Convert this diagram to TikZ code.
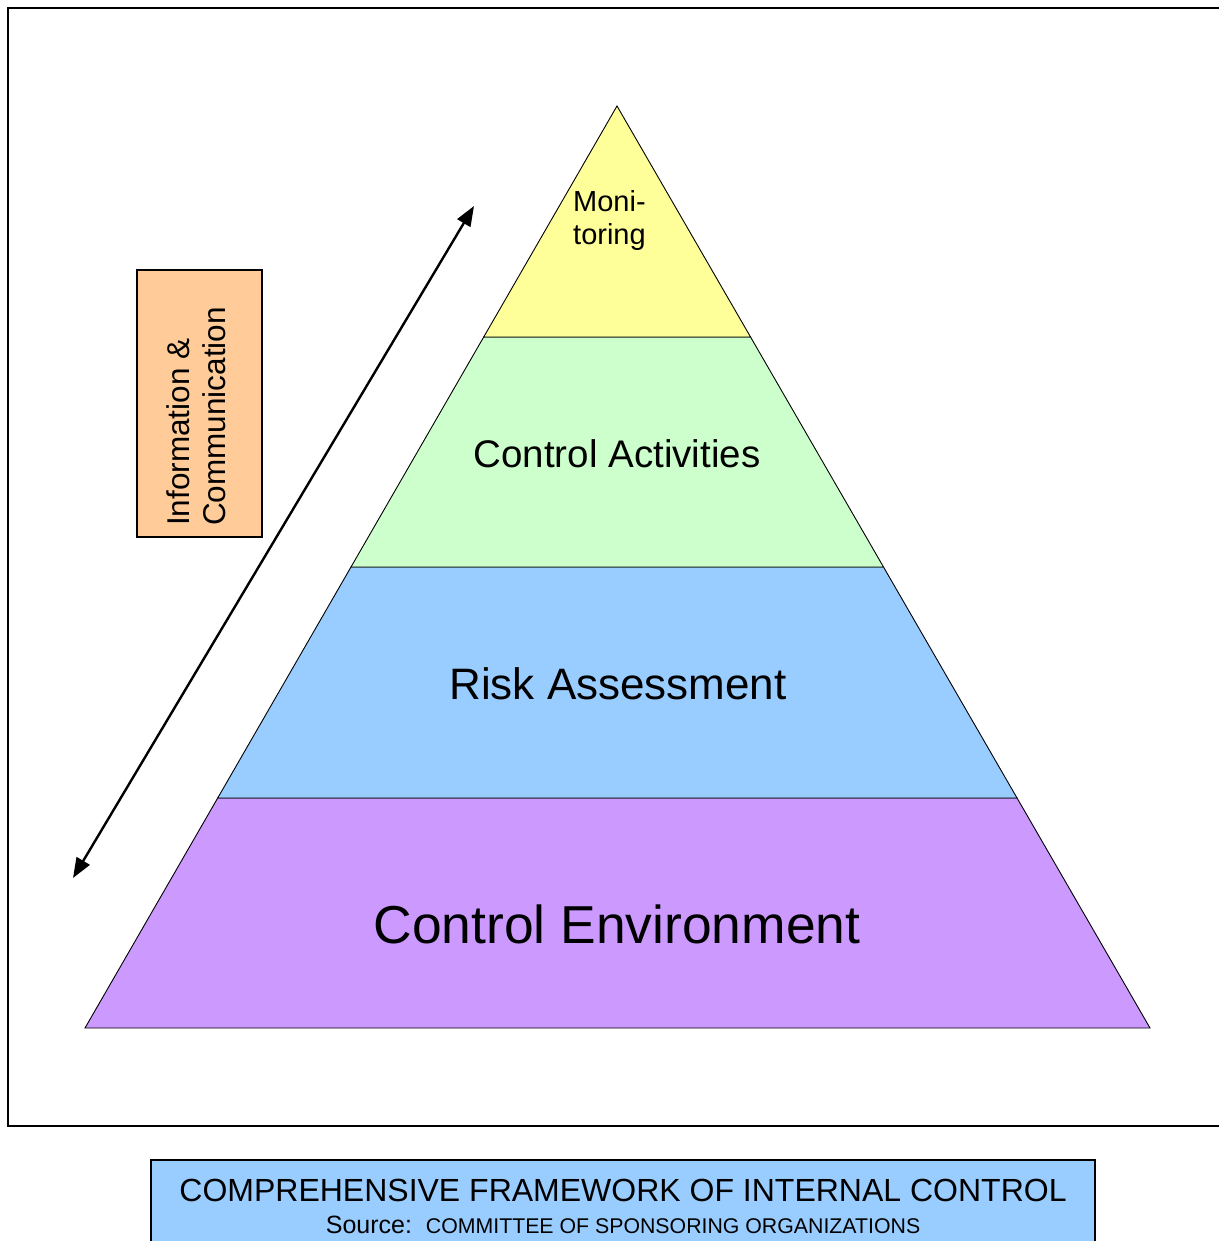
\documentclass[tikz,border=0pt]{standalone}
\usepackage{fontspec}
\setmainfont{Liberation Sans}
\usetikzlibrary{arrows.meta,calc}
\definecolor{monyellow}{HTML}{FFFF99}
\definecolor{actgreen}{HTML}{CCFFCC}
\definecolor{riskblue}{HTML}{99CCFF}
\definecolor{envpurple}{HTML}{CC99FF}
\definecolor{infoorange}{HTML}{FFCC99}
\begin{document}
\begin{tikzpicture}[x=1pt,y=-1pt,
  layer/.style={draw=black,line width=0.9pt},
  lbl/.style={inner sep=0pt,anchor=base,text=black},
  frameline/.style={line width=2pt,line cap=rect},
  dblarrow/.style={line width=2.4pt,{Triangle[length=20pt,width=15pt]}-{Triangle[length=20pt,width=15pt]}}]
\useasboundingbox (0,0) rectangle (1218,1241);

% outer frame, open on the right
\draw[frameline] (1218,8) -- (8,8) -- (8,1126) -- (1218,1126);

% pyramid corners
\coordinate (apex) at (617,106);
\coordinate (bl) at (85,1028);
\coordinate (br) at (1150,1028);
\coordinate (l1) at ($(apex)!0.25054!(bl)$);
\coordinate (r1) at ($(apex)!0.25054!(br)$);
\coordinate (l2) at ($(apex)!0.5!(bl)$);
\coordinate (r2) at ($(apex)!0.5!(br)$);
\coordinate (l3) at ($(apex)!0.75054!(bl)$);
\coordinate (r3) at ($(apex)!0.75054!(br)$);

% pyramid layers
\draw[layer,fill=envpurple] (l3) -- (r3) -- (br) -- (bl) -- cycle;
\draw[layer,fill=riskblue] (l2) -- (r2) -- (r3) -- (l3) -- cycle;
\draw[layer,fill=actgreen] (l1) -- (r1) -- (r2) -- (l2) -- cycle;
\draw[layer,fill=monyellow] (apex) -- (r1) -- (l1) -- cycle;

% layer labels
\node[inner sep=0pt,anchor=base west,font=\fontsize{29}{32.5}\selectfont,align=left] (mon) at (573,244) {Moni-\\toring};
\node[lbl,font=\fontsize{38.5}{44}\selectfont] (act) at (617,467) {Control Activities};
\node[lbl,font=\fontsize{44}{50}\selectfont] (risk) at (618,699) {Risk Assessment};
\node[lbl,font=\fontsize{53.4}{60}\selectfont] (env) at (617,943) {Control Environment};

% information & communication box
\draw[line width=1.5pt,fill=infoorange] (137,270) rectangle (262,537);
\node[inner sep=0pt,anchor=base west,rotate=90,font=\fontsize{31.5}{36}\selectfont] (info1) at (189,526) {Information \&};
\node[inner sep=0pt,anchor=base west,rotate=90,font=\fontsize{31.5}{36}\selectfont] (info2) at (225,526) {Communication};

% two-way arrow alongside the pyramid
\coordinate (arrlow) at (73,878);
\coordinate (arrhigh) at (474,206);
\draw[dblarrow] (arrlow) -- (arrhigh);

% caption box
\fill[riskblue] (151,1160) rectangle (1095,1241);
\draw[frameline] (151,1241) -- (151,1160) -- (1095,1160) -- (1095,1241);
\node[lbl,font=\fontsize{32}{38}\selectfont] (title) at (623,1201) {COMPREHENSIVE FRAMEWORK OF INTERNAL CONTROL};
\node[lbl] (source) at (623,1233) {\fontsize{25}{30}\selectfont Source:\ \ \fontsize{21.3}{26}\selectfont COMMITTEE OF SPONSORING ORGANIZATIONS};
\end{tikzpicture}
\end{document}
